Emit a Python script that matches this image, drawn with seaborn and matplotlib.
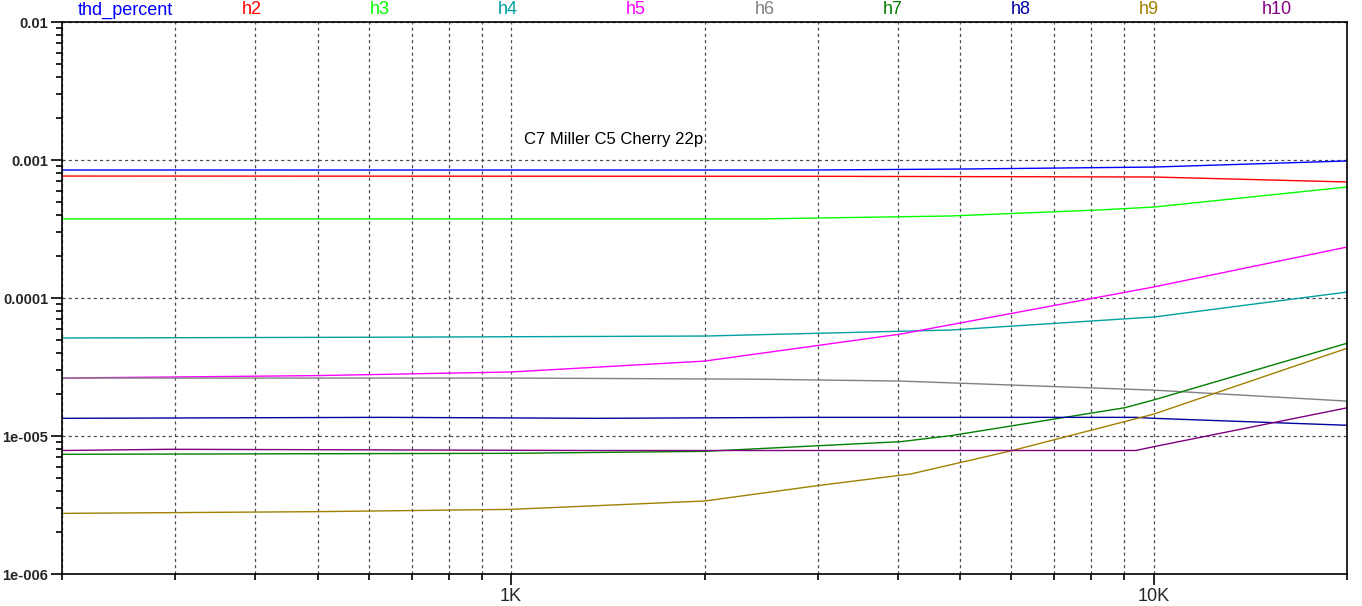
import numpy as np
import pandas as pd
import matplotlib
matplotlib.use("Agg")
import matplotlib.pyplot as plt
import matplotlib.ticker as mticker
import seaborn as sns

# harmonic distortion data (freq in Hz, level)
thd_f = [200, 2930, 5010, 10000, 20000]
thd_v = [8.46e-4, 8.46e-4, 8.60e-4, 8.89e-4, 9.84e-4]
h2_f = [200, 2930, 10000, 20000]
h2_v = [7.65e-4, 7.62e-4, 7.53e-4, 6.93e-4]
h3_f = [200, 2420, 4830, 8277, 10000, 20000]
h3_v = [3.74e-4, 3.74e-4, 3.93e-4, 4.35e-4, 4.56e-4, 6.37e-4]
h4_f = [200, 634, 2000, 4830, 10000, 20000]
h4_v = [5.13e-5, 5.20e-5, 5.30e-5, 5.86e-5, 7.28e-5, 1.104e-4]
h5_f = [200, 500, 1000, 2000, 4040, 10000, 20000]
h5_v = [2.63e-5, 2.74e-5, 2.91e-5, 3.49e-5, 5.48e-5, 1.202e-4, 2.34e-4]
h6_f = [200, 1000, 2420, 4040, 10000, 20000]
h6_v = [2.63e-5, 2.63e-5, 2.58e-5, 2.50e-5, 2.15e-5, 1.79e-5]
h7_f = [200, 1000, 2000, 4040, 4830, 9020, 10000, 20000]
h7_v = [7.37e-6, 7.49e-6, 7.74e-6, 9.10e-6, 1.005e-5, 1.603e-5, 1.824e-5, 4.70e-5]
h8_f = [200, 634, 1365, 2930, 9380, 10000, 20000]
h8_v = [1.343e-5, 1.365e-5, 1.343e-5, 1.365e-5, 1.365e-5, 1.343e-5, 1.196e-5]
h9_f = [200, 500, 1000, 2000, 3000, 4190, 6010, 10000, 20000]
h9_v = [2.75e-6, 2.83e-6, 2.94e-6, 3.38e-6, 4.37e-6, 5.31e-6, 7.82e-6, 1.44e-5, 4.32e-5]
h10_f = [200, 294, 1365, 9380, 10000, 20000]
h10_v = [7.85e-6, 8.01e-6, 7.85e-6, 7.85e-6, 8.36e-6, 1.60e-5]

names = ["thd_percent", "h2", "h3", "h4", "h5", "h6", "h7", "h8", "h9", "h10"]
freqs = [thd_f, h2_f, h3_f, h4_f, h5_f, h6_f, h7_f, h8_f, h9_f, h10_f]
vals = [thd_v, h2_v, h3_v, h4_v, h5_v, h6_v, h7_v, h8_v, h9_v, h10_v]
colors = ["#0000FF", "#FF0000", "#00FF00", "#00A0A0", "#FF00FF",
          "#808080", "#008000", "#0000A0", "#A08000", "#800080"]

rows = []
for n, fs, vs in zip(names, freqs, vals):
    for f, v in zip(fs, vs):
        rows.append({"freq": f, "value": v, "trace": n})
df = pd.DataFrame(rows)

sns.set_style("white")
plt.rcParams["font.family"] = ["Liberation Sans", "DejaVu Sans"]

fig = plt.figure(figsize=(13.62, 6.06), dpi=100)
ax = fig.add_axes([62 / 1362, 1 - 574 / 606, (1347 - 62) / 1362, (574 - 22) / 606])

sns.lineplot(data=df, x="freq", y="value", hue="trace", hue_order=names,
             palette=colors, estimator=None, sort=True, legend=False,
             linewidth=1.0, ax=ax)

ax.set_xscale("log")
ax.set_yscale("log")
ax.set_xlim(200, 20000)
ax.set_ylim(1e-6, 1e-2)

ax.xaxis.set_major_locator(mticker.FixedLocator([1000, 10000]))
ax.xaxis.set_major_formatter(mticker.FixedFormatter(["1K", "10K"]))
ax.xaxis.set_minor_locator(mticker.LogLocator(base=10, subs=np.arange(2, 10)))
ax.xaxis.set_minor_formatter(mticker.NullFormatter())
ax.yaxis.set_major_locator(mticker.FixedLocator([1e-6, 1e-5, 1e-4, 1e-3, 1e-2]))
ax.yaxis.set_major_formatter(mticker.FixedFormatter(["1e-006", "1e-005", "0.0001", "0.001", "0.01"]))
ax.yaxis.set_minor_locator(mticker.LogLocator(base=10, subs=np.arange(2, 10)))
ax.yaxis.set_minor_formatter(mticker.NullFormatter())

ax.tick_params(axis="both", which="major", direction="out", length=8, width=1.2,
               color="black", pad=2)
ax.tick_params(axis="x", which="major", labelsize=13)
ax.tick_params(axis="y", which="major", labelsize=10.5)
ax.tick_params(axis="both", which="minor", direction="out", length=4, width=1.2,
               color="black")
ax.tick_params(axis="y", which="both", left=True)
ax.tick_params(axis="x", which="both", bottom=True)
for lab in ax.get_yticklabels():
    lab.set_fontweight("bold")

grid_kw = dict(color="#504858", linestyle=(0, (2.5, 2.5)), linewidth=0.9)
ax.grid(False)
ax.grid(True, which="both", axis="x", **grid_kw)
ax.grid(True, which="major", axis="y", **grid_kw)

for side in ["left", "bottom", "top", "right"]:
    ax.spines[side].set_color("black")
    ax.spines[side].set_linewidth(1.2)

ax.set_xlabel("")
ax.set_ylabel("")

ax.text(1047, 1.4e-3, "C7 Miller C5 Cherry 22p", fontsize=12, color="black",
        ha="left", va="center")

# trace names across the top
label_x = [125, 252, 380, 508, 636, 765, 893, 1021, 1149, 1277]
for n, c, lx in zip(names, colors, label_x):
    fig.text(lx / 1362, 1 - 10 / 606, n, color=c, fontsize=13,
             ha="center", va="center")

fig.savefig("out.png", dpi=100)
